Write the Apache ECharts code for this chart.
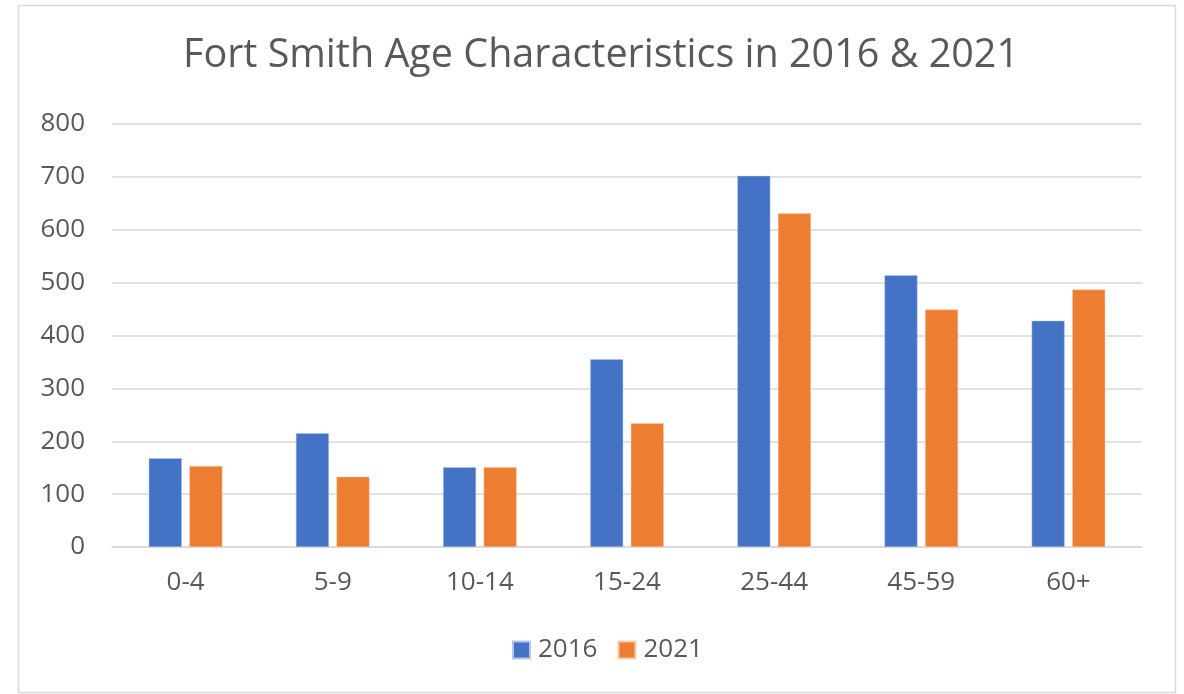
<!DOCTYPE html>
<html><head><meta charset="utf-8">
<script src="https://cdn.jsdelivr.net/npm/echarts@6/dist/echarts.min.js"></script>
<style>html,body{margin:0;padding:0;background:#fff;}#c{width:1184px;height:694px;}</style>
</head><body><div id="c"></div>
<script>
const categories = ['0-4','5-9','10-14','15-24','25-44','45-59','60+'];
const values2016 = [168, 215, 151, 355, 702, 514, 428];
const values2021 = [153, 133, 151, 234, 631, 449, 487];
const yTicks = {min: 0, max: 800, interval: 100};

const chart = echarts.init(document.getElementById('c'), null, {renderer: 'canvas'});
const font = 'Open Sans, Noto Sans, sans-serif';
chart.setOption({
  animation: false,
  backgroundColor: '#fff',
  graphic: [{type: 'rect', shape: {x: 18.5, y: 5.5, width: 1157, height: 687}, style: {fill: 'none', stroke: '#d9d9d9', lineWidth: 1.5}, silent: true}],
  title: {text: 'Fort Smith Age Characteristics in 2016 & 2021', left: 178, top: 31,
    textStyle: {fontFamily: font, fontSize: 39.5, fontWeight: 'normal', color: '#595959'}},
  legend: {top: 632, left: 507, itemWidth: 17, itemHeight: 17, itemGap: 20,
    icon: 'rect', textStyle: {fontFamily: font, fontSize: 26, color: '#595959', padding: [0, 0, 0, 3]}},
  grid: {left: 112, right: 42, top: 124, bottom: 147, containLabel: false},
  xAxis: {type: 'category', data: categories,
    axisLine: {show: true, lineStyle: {color: '#d9d9d9', width: 1.5}}, axisTick: {show: false},
    axisLabel: {fontFamily: font, fontSize: 26, color: '#595959', margin: 23}},
  yAxis: {type: 'value', min: yTicks.min, max: yTicks.max, interval: yTicks.interval,
    axisLine: {show: false}, axisTick: {show: false},
    splitLine: {lineStyle: {color: '#d9d9d9', width: 1.5}},
    axisLabel: {fontFamily: font, fontSize: 26, color: '#595959', margin: 27}},
  series: [
    {name: '2016', type: 'bar', data: values2016, barWidth: 33, barGap: '23%',
      itemStyle: {color: '#4472C4', borderColor: '#b4c7e7', borderWidth: 0.5}},
    {name: '2021', type: 'bar', data: values2021, barWidth: 33, barGap: '23%',
      itemStyle: {color: '#ED7D31', borderColor: '#f8cbad', borderWidth: 0.5}}
  ]
});
</script></body></html>
